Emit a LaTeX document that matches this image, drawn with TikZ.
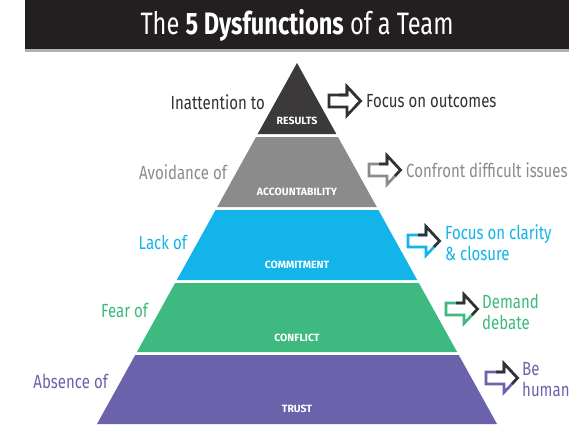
\documentclass[tikz,border=0pt]{standalone}
\usepackage{fontspec}
\setmainfont{Fira Sans}[FakeStretch=0.79]
\newfontfamily\bandfont{Fira Sans}
\usetikzlibrary{positioning}
\definecolor{titlebar}{HTML}{231F20}
\definecolor{resultsband}{HTML}{3B393A}
\definecolor{accountband}{HTML}{8B8B8C}
\definecolor{commitband}{HTML}{12B4E9}
\definecolor{conflictband}{HTML}{3EB97F}
\definecolor{trustband}{HTML}{6A63AC}
\definecolor{darkink}{HTML}{333132}
\tikzset{
    bandname/.style={text=white, font=\bandfont\bfseries\fontsize{10.5}{11}\selectfont, inner sep=0pt},
    lefttext/.style={anchor=east, font=\fontsize{19}{20}\selectfont, inner sep=0pt},
    righttext/.style={anchor=west, font=\fontsize{19}{21}\selectfont, inner sep=0pt, align=left},
    pics/hintarrow/.style={code={
        \draw[line width=2.6pt, draw=#1] (0,-6) -- (18,-6) -- (18,-14.5) -- (31.5,0) -- (18,14.5) -- (18,6) -- (0,6) -- cycle;
        \draw[line width=2.6pt, draw=darkink] (10,-6) -- (18,-6) -- (18,-14.5) -- (31.5,0) -- (26,6);
    }},
}

\begin{document}
\begin{tikzpicture}[x=1pt, y=-1pt]
\useasboundingbox[fill=white] (0,0) rectangle (569,426);
% title bar
\fill[titlebar] (25,0) rectangle (569,50);
\fill[gray!60] (25,49) rectangle (569,51.5);
\node[text=white, font=\addfontfeature{FakeStretch=0.76}\fontsize{31}{34}\selectfont] (title) at (297,25) {The \textbf{5 Dysfunctions} of a Team};

% pyramid, top down
\foreach \ytop/\ybot/\col in {63/134/resultsband, 137/207/accountband, 210/280/commitband, 283/352/conflictband, 355/424/trustband}
    \fill[\col] ({297-(\ytop-63)*0.554},\ytop) -- ({297+(\ytop-63)*0.554},\ytop)
        -- ({297+(\ybot-63)*0.554},\ybot) -- ({297-(\ybot-63)*0.554},\ybot) -- cycle;

\node[bandname] (results) at (297,121) {RESULTS};
\node[bandname] (accountability) at (297,192) {ACCOUNTABILITY};
\node[bandname] (commitment) at (297,265) {COMMITMENT};
\node[bandname] (conflict) at (297,338) {CONFLICT};
\node[bandname] (trust) at (297,409) {TRUST};

% left side
\node[lefttext, text=darkink] (inattention) at (265,102) {Inattention to};
\node[lefttext, text=accountband] (avoidance) at (227,172) {Avoidance of};
\node[lefttext, text=commitband] (lack) at (187,242) {Lack of};
\node[lefttext, text=conflictband] (fear) at (148,310) {Fear of};
\node[lefttext, text=trustband] (absence) at (108,381) {Absence of};

% right side
\pic at (329,101) {hintarrow=darkink};
\node[righttext, text=darkink] (outcomes) at (366,101) {Focus on outcomes};
\pic at (369,170) {hintarrow=accountband};
\node[righttext, text=accountband] (confront) at (406,170) {Confront difficult issues};
\pic at (408,241) {hintarrow=commitband};
\node[righttext, text=commitband] (clarity) at (445,242.5) {Focus on clarity\\\& closure};
\pic at (446,309) {hintarrow=conflictband};
\node[righttext, text=conflictband] (debate) at (482,311.5) {Demand\\debate};
\pic at (486,378) {hintarrow=trustband};
\node[righttext, text=trustband] (human) at (522,380) {Be\\human};
\end{tikzpicture}
\end{document}
